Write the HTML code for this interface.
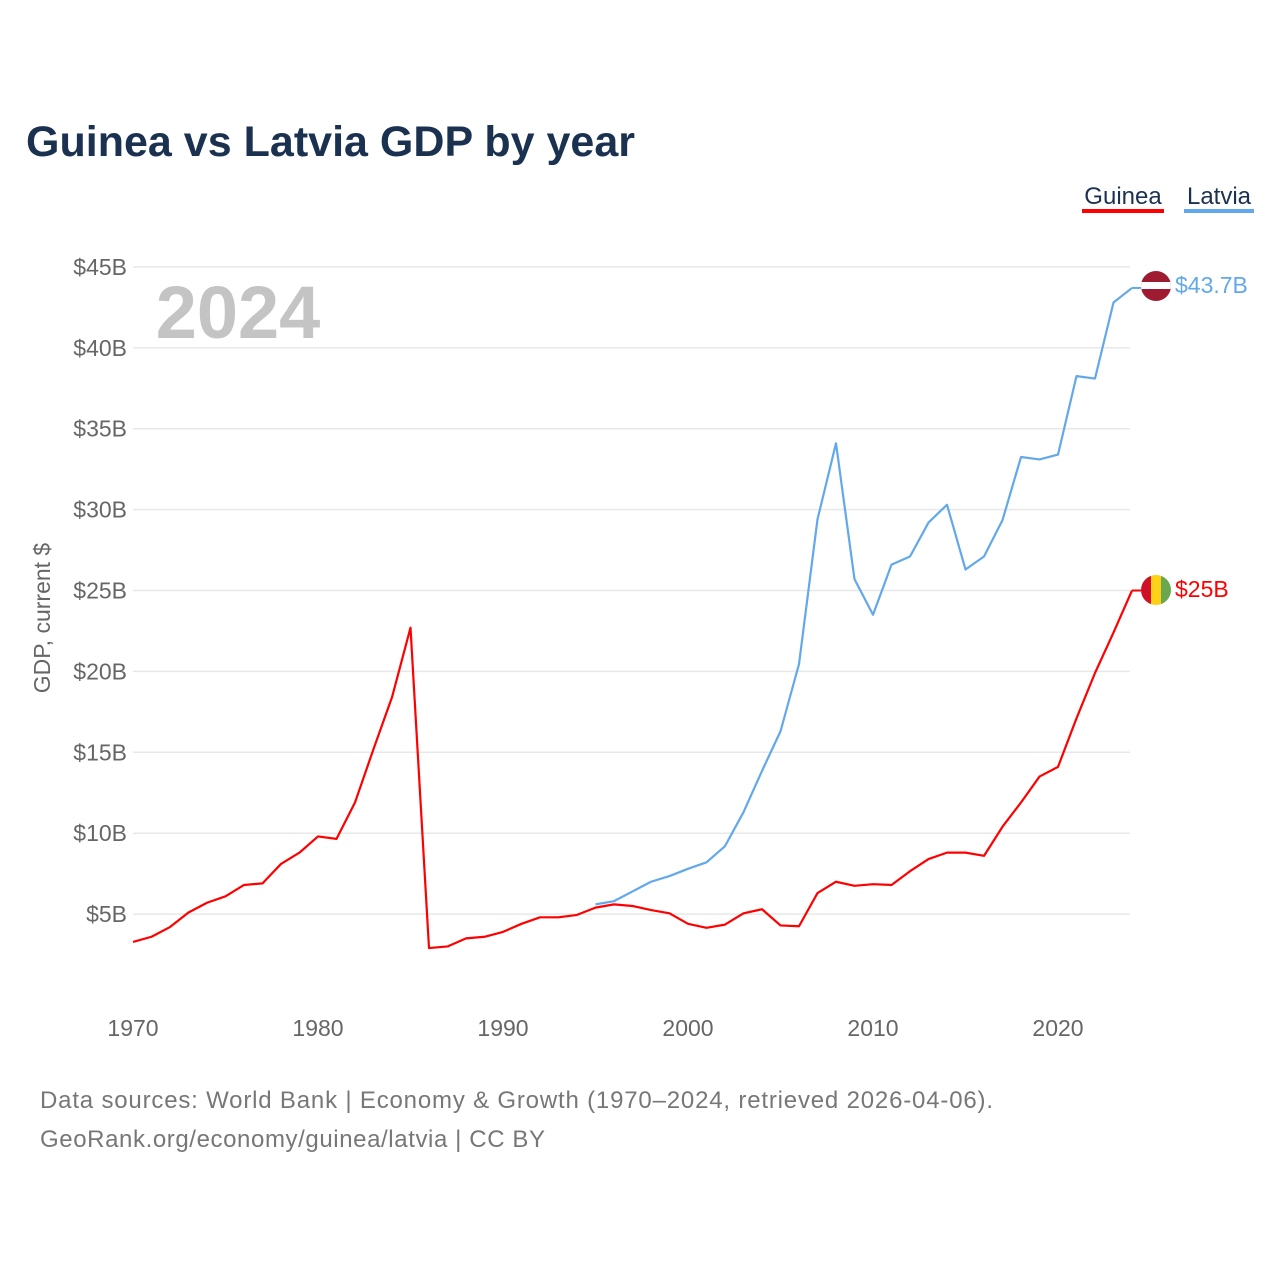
<!DOCTYPE html>
<html><head><meta charset="utf-8"><style>
body{margin:0;background:#fff;font-family:"Liberation Sans",sans-serif;}
svg text{font-family:"Liberation Sans",sans-serif;}
</style></head><body>
<svg width="1280" height="1280">
<text x="26" y="156" font-size="43" font-weight="bold" fill="#1a3150" textLength="609">Guinea vs Latvia GDP by year</text>
<g><text x="1123" y="204" font-size="24" fill="#1a3150" text-anchor="middle">Guinea</text><rect x="1082" y="209" width="82" height="4" fill="#ff0000"/></g>
<g><text x="1219" y="204" font-size="24" fill="#1a3150" text-anchor="middle">Latvia</text><rect x="1184" y="209" width="70" height="4" fill="#62a8ea"/></g>
<text x="238" y="338" font-size="74" font-weight="bold" fill="#c4c4c4" text-anchor="middle">2024</text>
<g id="grid"></g><g id="xt"></g>
<text transform="translate(50,618) rotate(-90)" font-size="23" fill="#666" text-anchor="middle">GDP, current $</text>
<g id="lines"></g>
<g><clipPath id="c1"><circle cx="1156" cy="286" r="15"/></clipPath><g clip-path="url(#c1)"><rect x="1140" y="270" width="32" height="32" fill="#9e1b32"/><rect x="1140" y="282" width="32" height="7" fill="#fff"/></g></g>
<text x="1175" y="293" font-size="23" fill="#62a8ea">$43.7B</text>
<g><clipPath id="c2"><circle cx="1156" cy="590" r="15"/></clipPath><g clip-path="url(#c2)"><rect x="1140" y="574" width="11" height="32" fill="#ce1126"/><rect x="1151" y="574" width="10" height="32" fill="#fcd116"/><rect x="1161" y="574" width="12" height="32" fill="#6aa84f"/></g></g>
<text x="1175" y="597" font-size="23" fill="#ff0000">$25B</text>
<text x="40" y="1108" font-size="24" fill="#777" textLength="953">Data sources: World Bank | Economy &amp; Growth (1970–2024, retrieved 2026-04-06).</text>
<text x="40" y="1147" font-size="24" fill="#777" textLength="505">GeoRank.org/economy/guinea/latvia | CC BY</text>
</svg>
<script>
const guineaYears=[];for(let y=1970;y<=2024;y++)guineaYears.push(y);
const guineaValues=[3.28,3.6,4.2,5.1,5.7,6.1,6.8,6.9,8.1,8.8,9.8,9.65,11.9,15.2,18.4,22.7,2.9,3.0,3.5,3.6,3.9,4.4,4.8,4.8,4.95,5.4,5.6,5.5,5.25,5.05,4.4,4.15,4.35,5.05,5.3,4.3,4.25,6.3,7.0,6.75,6.85,6.8,7.65,8.4,8.8,8.8,8.6,10.4,11.9,13.5,14.1,17.1,19.9,22.4,25.0];
const latviaYears=[];for(let y=1995;y<=2024;y++)latviaYears.push(y);
const latviaValues=[5.6,5.8,6.4,7.0,7.35,7.8,8.2,9.2,11.3,13.85,16.3,20.45,29.4,34.1,25.7,23.5,26.6,27.1,29.2,30.3,26.3,27.1,29.35,33.25,33.1,33.4,38.25,38.1,42.8,43.7];
const yTicks=[5,10,15,20,25,30,35,40,45];
const xTicks=[1970,1980,1990,2000,2010,2020];
const NS="http://www.w3.org/2000/svg";
const xS=y=>133+(y-1970)*18.5;
const yS=v=>995-v*16.18;
function mk(t,a,p){const e=document.createElementNS(NS,t);for(const k in a)e.setAttribute(k,a[k]);p.appendChild(e);return e;}
const grid=document.getElementById('grid');
yTicks.forEach(v=>{
const l=mk('line',{x1:133,x2:1130,y1:yS(v),y2:yS(v),stroke:'#e8e8e8','stroke-width':1.5},grid);


const t=mk('text',{x:127,y:yS(v)+8,'font-size':23,fill:'#666','text-anchor':'end'},grid);t.textContent='$'+v+'B';


});
const xt=document.getElementById('xt');
xTicks.forEach(y=>{const t=mk('text',{x:xS(y),y:1036,'font-size':23,fill:'#666','text-anchor':'middle'},xt);t.textContent=y;

});
const lines=document.getElementById('lines');
function line(ys,vs,c,n){const d=ys.map((y,i)=>(i?'L':'M')+xS(y)+','+yS(vs[i])).join(' ');
const p=mk('path',{d:d,fill:'none',stroke:c,'stroke-width':2.2,'stroke-linejoin':'round'},lines);

}
line(guineaYears,guineaValues,'#ff0000','guinea-line');
line(latviaYears,latviaValues,'#62a8ea','latvia-line');
const c=mk('path',{d:'M'+xS(2024)+','+yS(43.7)+' L1141,'+yS(43.7),stroke:'#62a8ea','stroke-width':2,fill:'none'},lines);


const c2=mk('path',{d:'M'+xS(2024)+','+yS(25)+' L1141,'+yS(25),stroke:'#ff0000','stroke-width':2,fill:'none'},lines);


</script>
</body></html>
